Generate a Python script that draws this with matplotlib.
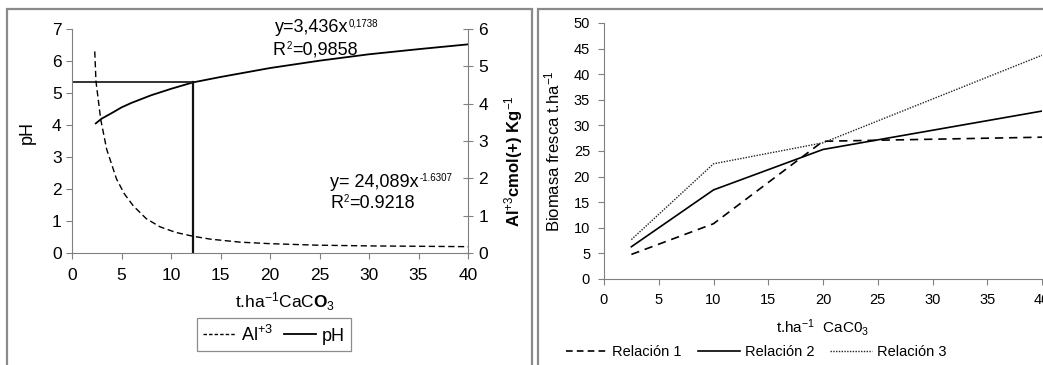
import matplotlib
matplotlib.use("Agg")
import matplotlib.pyplot as plt
from matplotlib.lines import Line2D
from matplotlib.patches import Rectangle

plt.rcParams['font.family'] = ['Liberation Sans', 'DejaVu Sans']
plt.rcParams['mathtext.fontset'] = 'custom'
plt.rcParams['mathtext.rm'] = 'Liberation Sans'
plt.rcParams['mathtext.it'] = 'Liberation Sans'
plt.rcParams['mathtext.bf'] = 'Liberation Sans:bold'

# ---- Left panel data ----
ph_x = [2.4, 3, 4, 5, 6, 8, 10, 12.2, 15, 20, 25, 30, 35, 40]
ph_y = [4.05, 4.20, 4.37, 4.55, 4.69, 4.93, 5.13, 5.33, 5.50, 5.78, 6.01, 6.21, 6.37, 6.52]

al_x = [2.3, 2.42, 2.9, 3.5, 4.5, 5.3, 6.2, 7.5, 8.9, 10.5, 12.2, 14, 17, 20, 24.7, 30, 35, 40]
al_y = [5.40, 4.60, 3.58, 2.78, 1.98, 1.58, 1.26, 0.92, 0.70, 0.55, 0.45, 0.37, 0.29, 0.25,
        0.21, 0.19, 0.18, 0.17]

guide_x = 12.2
guide_ph = 5.35

left_xticks = [0, 5, 10, 15, 20, 25, 30, 35, 40]
left_yticks = [0, 1, 2, 3, 4, 5, 6, 7]
right_yticks = [0, 1, 2, 3, 4, 5, 6]

# ---- Right panel data ----
dose = [2.5, 10, 20, 40]
rel1 = [4.8, 10.8, 26.9, 27.7]
rel2 = [6.3, 17.4, 25.3, 32.8]
rel3 = [7.7, 22.5, 26.6, 43.7]
bio_xticks = [0, 5, 10, 15, 20, 25, 30, 35, 40]
bio_yticks = [0, 5, 10, 15, 20, 25, 30, 35, 40, 45, 50]

W, H = 1043, 365
fig = plt.figure(figsize=(W / 100, H / 100), dpi=100)

def fx(px):
    return px / W

def fy(py):
    return 1 - py / H

# panel frames
fig.patches.append(Rectangle((fx(7), fy(372)), fx(532) - fx(7), fy(9) - fy(372),
                             transform=fig.transFigure, fill=False,
                             edgecolor='#8a8a8a', linewidth=1.6))
fig.patches.append(Rectangle((fx(538), fy(372)), fx(1050) - fx(538), fy(9) - fy(372),
                             transform=fig.transFigure, fill=False,
                             edgecolor='#8a8a8a', linewidth=1.6))

spine_c = '#808080'

# ---------- Left panel ----------
ax = fig.add_axes([fx(72), fy(253), fx(468) - fx(72), fy(29) - fy(253)])
ax2 = ax.twinx()
ax.patch.set_visible(False)

ax.plot(ph_x, ph_y, color='black', lw=1.3)
ax2.plot(al_x, al_y, color='black', lw=1.0, linestyle=(0, (4.5, 2.5)))
ax.plot([0, guide_x], [guide_ph, guide_ph], color='#222222', lw=1.3)
ax.plot([guide_x, guide_x], [0, guide_ph], color='#111111', lw=1.6)

ax.set_xlim(0, 40)
ax.set_ylim(0, 7)
ax2.set_ylim(0, 6)
ax.set_xticks(left_xticks)
ax.set_yticks(left_yticks)
ax2.set_yticks(right_yticks)

for a in (ax, ax2):
    a.spines['top'].set_visible(False)
    for s in a.spines.values():
        s.set_color(spine_c)
ax.spines['right'].set_visible(False)
ax2.spines['left'].set_visible(False)
ax2.spines['bottom'].set_visible(False)

ax.tick_params(axis='both', colors=spine_c, labelcolor='black', labelsize=12.5,
               direction='out', length=4, width=0.8)
ax.tick_params(axis='x', pad=7)
ax2.tick_params(axis='y', colors=spine_c, labelcolor='black', labelsize=12.5,
                direction='inout', length=7, width=0.8, pad=4)

renderer = fig.canvas.get_renderer()

def text_sup(axis, x, y, base, sup, size=13, supsize=7, after=""):
    t = axis.text(x, y, base, fontsize=size, va='baseline')
    bb = t.get_window_extent(renderer=renderer)
    s = fig.text(bb.x1 / fig.dpi / fig.get_figwidth() + 0.0005,
                 (bb.y1 + 1) / fig.dpi / fig.get_figheight(),
                 sup, fontsize=supsize, va='top', ha='left')
    if after:
        sb = s.get_window_extent(renderer=renderer)
        fig.text(sb.x1 / fig.dpi / fig.get_figwidth(),
                 bb.y0 / fig.dpi / fig.get_figheight(),
                 after, fontsize=size, va='bottom', ha='left')

text_sup(ax, 20.5, 6.9, "y=3,436x", "0,1738")
text_sup(ax, 20.3, 6.19, "R", "2", after="=0,9858")
text_sup(ax, 26.1, 2.06, "y= 24,089x", "-1.6307")
text_sup(ax, 26.1, 1.41, "R", "2", after="=0.9218")

ax.set_ylabel("pH", fontsize=13)
ax.yaxis.set_label_coords(-0.091, 0.536)
ax2.set_ylabel("Al$^{+3}$cmol(+) Kg$^{-1}$", fontsize=12, fontweight='bold',
               rotation=90, va='center')
ax2.yaxis.set_label_coords(1.114, 0.41)
ax.set_xlabel(r"t.ha$^{-1}$CaC$\mathbf{O}_3$", fontsize=12.5, va='center')
ax.xaxis.set_label_coords(0.538, -0.219)

h1 = Line2D([], [], color='black', lw=1.0, linestyle=(0, (2.5, 1.5)))
h2 = Line2D([], [], color='black', lw=1.3)
leg = fig.legend([h1, h2], ["Al$^{+3}$", "pH"], loc='center',
                 bbox_to_anchor=(fx(274), fy(334.5)), ncol=2, fontsize=13,
                 frameon=True, fancybox=False, edgecolor='#707070',
                 handlelength=1.8, handletextpad=0.3, columnspacing=0.6,
                 borderpad=0.35)
leg.get_frame().set_linewidth(0.9)

# ---------- Right panel ----------
bx = fig.add_axes([fx(604), fy(279), fx(1042) - fx(604), fy(23) - fy(279)])
bx.plot(dose, rel1, color='black', lw=1.2, linestyle=(0, (5, 3.5)))
bx.plot(dose, rel2, color='black', lw=1.2)
bx.plot(dose, rel3, color='#222222', lw=1.0, linestyle=(0, (1, 1)))
bx.set_xlim(0, 40)
bx.set_ylim(0, 50)
bx.set_xticks(bio_xticks)
bx.set_yticks(bio_yticks)
bx.spines['top'].set_visible(False)
bx.spines['right'].set_visible(False)
for s in bx.spines.values():
    s.set_color(spine_c)
bx.tick_params(axis='both', colors=spine_c, labelcolor='black', labelsize=10.5,
               direction='out', length=4, width=0.8)
bx.tick_params(axis='x', pad=6)
bx.tick_params(axis='y', pad=6)
bx.set_ylabel("Biomasa fresca t.ha$^{-1}$", fontsize=12, va='center')
bx.yaxis.set_label_coords(-0.118, 0.5)
bx.set_xlabel("t.ha$^{-1}$  CaC0$_3$", fontsize=11, va='center')
bx.xaxis.set_label_coords(0.5, -0.191)

g1 = Line2D([], [], color='black', lw=1.2, linestyle=(0, (4, 2.5)))
g2 = Line2D([], [], color='black', lw=1.2)
g3 = Line2D([], [], color='#222222', lw=1.0, linestyle=(0, (1, 1)))
fig.legend([g1, g2, g3], ["Relación 1", "Relación 2", "Relación 3"], loc='center',
           bbox_to_anchor=(fx(756), fy(352)), ncol=3, fontsize=10.5, frameon=False,
           handlelength=2.9, handletextpad=0.3, columnspacing=1.1)

fig.savefig("out.png", dpi=100)
